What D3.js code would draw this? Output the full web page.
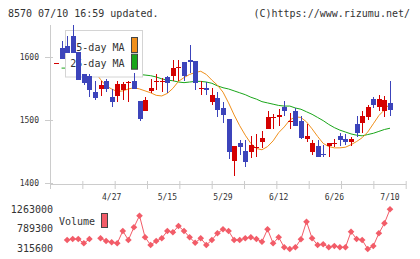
<!DOCTYPE html>
<html><head><meta charset="utf-8">
<script src="https://cdn.jsdelivr.net/npm/d3@7"></script>
<style>
body{margin:0;background:#fff;}
svg{display:block;}
text{font-family:"DejaVu Sans Mono",monospace;fill:#333;}
</style></head><body>
<svg id="c" width="420" height="259"></svg>
<script>
// ---- data ----
const openP = [1589,1613,1617,1633,1607,1573,1569,1545,1549,1561,
  1536,1538,1547,1558,1561,1530,1514,1546,1561,1561,
  1568,1569,1583,1591,1594,1593,1549,1551,1529,1535,
  1519,1502,1436,1463,1451,1449,1457,1466,1485,1504,
  1504,1520,1498,1515,1499,1470,1450,1459,1447,1459,
  1463,1475,1470,1465,1494,1496,1504,1533,1521,1515,1527];
const closeP = [1590,1596,1606,1606,1563,1559,1547,1535,1556,1549,
  1528,1557,1557,1560,1549,1502,1532,1551,1562,1562,
  1559,1582,1584,1570,1591,1559,1550,1548,1540,1516,
  1508,1449,1459,1458,1433,1461,1458,1472,1505,1505,
  1508,1514,1499,1490,1472,1475,1463,1442,1444,1464,
  1464,1468,1465,1470,1480,1507,1521,1523,1533,1532,1516];
const highP = [1590,1625,1632,1650,1607,1573,1572,1561,1562,1564,
  1549,1561,1560,1562,1574,1530,1536,1565,1572,1566,
  1569,1595,1595,1591,1619,1593,1561,1560,1551,1545,
  1529,1502,1459,1468,1468,1474,1478,1483,1515,1510,
  1518,1530,1511,1519,1507,1494,1468,1468,1461,1464,
  1470,1480,1478,1473,1506,1515,1524,1536,1540,1538,1561];
const lowP = [1589,1596,1606,1606,1563,1556,1536,1532,1538,1544,
  1521,1529,1531,1529,1549,1498,1514,1542,1547,1545,
  1543,1561,1561,1561,1574,1548,1540,1540,1524,1504,
  1495,1438,1411,1445,1425,1440,1441,1456,1485,1486,
  1491,1506,1485,1490,1470,1465,1444,1442,1442,1442,
  1457,1459,1461,1459,1473,1480,1500,1519,1514,1504,1507];
const ma5 = [null,1603,1608,1608,1603,1595,1586,1576,1564,1554,
  1549,1545,1546,1549,1551,1549,1546,1543,1539,1538,
  1542,1550,1561,1567,1572,1575,1577,1572,1563,1555,
  1544,1527,1508,1491,1476,1463,1455,1453,1458,1467,
  1480,1489,1500,1505,1504,1497,1486,1474,1463,1458,
  1456,1456,1457,1461,1466,1472,1481,1494,1507,1516,1526];
const ma25 = [null,1582,1582,1581,1580,1579,1579,1578,1577,1576,
  1576,1575,1574,1573,1573,1572,1571,1570,1568,1565,
  1563,1562,1560,1559,1560,1561,1561,1560,1558,1554,
  1551,1549,1546,1543,1540,1536,1533,1529,1527,1525,
  1523,1522,1522,1519,1517,1513,1509,1504,1499,1493,
  1488,1484,1481,1478,1476,1475,1477,1479,1482,1485,1487];
const volume = [null,null,517200,541500,541500,437100,541500,null,558500,492900,
  461400,437100,735900,517200,825700,1107500,582800,395800,492900,558500,
  735900,704300,857300,735900,582800,451600,558500,395800,517200,680000,
  777100,735900,517200,517200,558500,582800,541500,475900,777100,437100,
  582800,339900,298600,339900,534200,961800,558500,395800,412800,339900,
  371500,339900,339900,718800,541500,517200,298600,371500,680000,922900,1263000];
const xLabels = ["4/27","5/15","5/29","6/12","6/26","7/10"];
const xLabelIdx = [10,20,30,40,50,60];
const priceTicks = [1400,1500,1600];
const volTicks = [315600,789300,1263000];
const legendNames = ["5-day MA","25-day MA"];

// ---- styles ----
const UP = "#d40000", DOWN = "#3c44bb", C5 = "#f0901c", C25 = "#1aa61a", VOL = "#f25c68", AX = "#cccccc";

const svg = d3.select("#c");
const n = openP.length;
const x = d3.scaleLinear().domain([0, n - 1]).range([56, 390]);
const y = d3.scaleLinear().domain([1400, 1600]).range([183.3, 56.7]);
const yv = d3.scaleLinear().domain([315600, 1263000]).range([248.3, 209.3]);
const gridX = d3.scaleLinear().domain([0, 11]).range([50, 405.7]);

// header
svg.append("text").attr("x", 8).attr("y", 17).attr("font-size", 10).text("8570 07/10 16:59 updated.");
svg.append("text").attr("x", 410).attr("y", 17).attr("font-size", 10).attr("text-anchor", "end").text("(C)https://www.rizumu.net/");

// clip
svg.append("clipPath").attr("id", "clip").append("rect").attr("x", 50).attr("y", 24).attr("width", 356).attr("height", 160);

// left axis
const gl = svg.append("g").attr("transform", "translate(50,0)")
  .call(d3.axisLeft(y).tickValues(priceTicks).tickSize(5).tickFormat(d3.format("d")));
gl.select(".domain").remove();
gl.selectAll(".tick line").attr("x1", -5).attr("x2", 3).attr("stroke", AX).attr("shape-rendering", "crispEdges");
gl.selectAll(".tick text").attr("x", -11).attr("font-size", 8).attr("font-family", "DejaVu Sans Mono").attr("fill", "#333");
svg.append("line").attr("x1", 50.5).attr("x2", 50.5).attr("y1", 25).attr("y2", 189).attr("stroke", AX);

// bottom axis
const gb = svg.append("g").attr("transform", "translate(0,184)")
  .call(d3.axisBottom(gridX).tickValues(d3.range(12)).tickSizeOuter(0).tickFormat(""));
gb.select(".domain").attr("stroke", AX);
gb.selectAll(".tick line").attr("y1", -3).attr("y2", 5).attr("stroke", AX);

// date labels
svg.append("g").selectAll("text").data(xLabels).join("text")
  .attr("x", (d, i) => x(xLabelIdx[i])).attr("y", 200).attr("text-anchor", "middle")
  .attr("font-size", 8).text(d => d);

const plot = svg.append("g").attr("clip-path", "url(#clip)");

// MA lines
const line = arr => d3.line().defined(i => arr[i] != null).x(i => x(i)).y(i => y(arr[i]))(d3.range(n));
plot.append("path").attr("d", line(ma25)).attr("fill", "none").attr("stroke", C25).attr("stroke-width", 1);
plot.append("path").attr("d", line(ma5)).attr("fill", "none").attr("stroke", C5).attr("stroke-width", 1);

// legend
const lg = svg.append("g");
lg.append("rect").attr("x", 65.5).attr("y", 30.5).attr("width", 77).attr("height", 46.5).attr("fill", "#fff").attr("stroke", "#d4d4d4");
lg.selectAll("text").data(legendNames).join("text")
  .attr("x", 124.5).attr("y", (d, i) => 50.5 + i * 16.7).attr("text-anchor", "end").attr("font-size", 10).text(d => d);
lg.selectAll("rect.sw").data([C5, C25]).join("rect").attr("class", "sw")
  .attr("x", 131.5).attr("y", (d, i) => 37.5 + i * 16.7).attr("width", 6).attr("height", 15)
  .attr("fill", d => d).attr("stroke", "#444");

// candles (drawn above the legend, as in the reference)
const cg = svg.append("g").attr("clip-path", "url(#clip)").attr("shape-rendering", "crispEdges");
d3.range(n).forEach(i => {
  const cx = Math.round(x(i));
  const col = closeP[i] >= openP[i] ? UP : DOWN;
  cg.append("line").attr("x1", cx + 0.5).attr("x2", cx + 0.5)
    .attr("y1", y(highP[i])).attr("y2", y(lowP[i])).attr("stroke", col);
  const top = y(Math.max(openP[i], closeP[i])), bot = y(Math.min(openP[i], closeP[i]));
  cg.append("rect").attr("x", cx - 2).attr("width", 5)
    .attr("y", top).attr("height", Math.max(1, bot - top)).attr("fill", col);
});

// volume
svg.append("g").selectAll("text").data(volTicks).join("text")
  .attr("x", 53).attr("y", d => yv(d) + 3.5).attr("text-anchor", "end").attr("font-size", 10).text(d => d);
svg.append("text").attr("x", 59).attr("y", 225).attr("font-size", 10).text("Volume");
svg.append("rect").attr("x", 101.5).attr("y", 213.5).attr("width", 6).attr("height", 14).attr("fill", VOL).attr("stroke", "#444");
const vline = d3.line().defined(i => volume[i] != null).x(i => x(i)).y(i => yv(volume[i]));
svg.append("path").attr("d", vline(d3.range(n))).attr("fill", "none").attr("stroke", VOL).attr("stroke-width", 1);
svg.append("g").selectAll("path").data(d3.range(n).filter(i => volume[i] != null)).join("path")
  .attr("d", d3.symbol(d3.symbolSquare, 22)())
  .attr("transform", i => `translate(${x(i)},${yv(volume[i])}) rotate(45)`)
  .attr("fill", VOL);
</script>
</body></html>
